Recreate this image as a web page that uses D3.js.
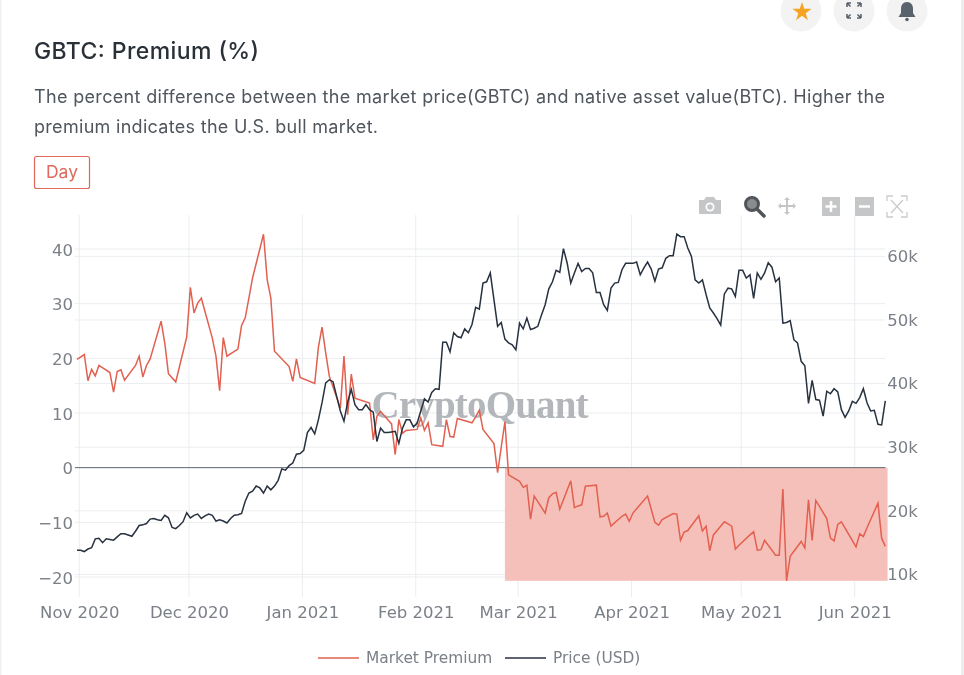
<!DOCTYPE html>
<html>
<head>
<meta charset="utf-8">
<title>GBTC: Premium (%)</title>
<script src="https://cdnjs.cloudflare.com/ajax/libs/d3/7.8.5/d3.min.js"></script>
<style>
  html, body { margin: 0; padding: 0; background: #fff; overflow: hidden; }
  svg { display: block; filter: blur(0.3px); }
  .ui { font-family: Inter, "Noto Sans", sans-serif; }
  .tick text, .legend text { font-family: "DejaVu Sans", sans-serif; }
</style>
</head>
<body>
<div id="chart"></div>
<script>
// Premium (%) for trading days only, one row per week
const premiumFirst = 19.8; // Oct 31
const premiumWeeks = [
  [20.7, 15.9, 18.0, 16.8, 18.7],
  [17.4, 13.8, 17.6, 17.9, 16.0],
  [18.7, 20.4, 16.6, 18.7, 19.9],
  [26.8, 22.8, 17.2, 15.7],
  [23.9, 33.0, 28.3, 30.1, 31.0],
  [23.7, 20.4, 14.1, 23.8, 20.4],
  [21.7, 26.0, 27.4, 31.0, 34.7],
  [42.7, 34.4, 31.0, 21.3],
  [18.5, 15.8, 19.9, 16.5],
  [15.4, 22.0, 25.7, 21.0, 16.7],
  [10.9, 20.4, 9.7, 17.1, 12.7],
  [11.8, 5.1, 9.4, 10.3],
  [8.0, 2.4, 8.8, 6.3, 6.8],
  [7.0, 9.1, 6.8, 8.2, 4.2],
  [3.9, 8.8, 5.7, 5.6, 9.0],
  [8.2, 9.3, 10.5, 7.0],
  [4.4, -0.9, 3.75, 8.4, -1.3],
  [-2.5, -3.6, -3.2, -9.4, -5.2],
  [-8.3, -5.5, -4.8, -4.5, -7.6],
  [-2.4, -7.3, -7.0, -6.8, -3.4],
  [-3.2, -9.0, -8.9, -8.3, -10.7],
  [-8.9, -8.5, -9.8, -8.3],
  [-5.2, -7.6, -10.0, -10.5, -9.5],
  [-8.4, -8.5, -13.3, -11.8, -11.5],
  [-8.8, -11.6, -10.7, -15.2, -12.3],
  [-9.9, -10.3, -10.7, -14.9, -14.2],
  [-12.3, -11.7, -15.1, -15.0, -13.3],
  [-16.0, -16.0, -3.9, -20.7, -16.2],
  [-13.5, -14.7, -5.9, -13.3, -6.0],
  [-9.3, -12.9, -13.4, -10.4, -9.9],
  [-14.5, -12.1, -12.6, -11.0],
  [-6.5, -12.9, -14.4]
];
const marketHolidays = ["2020-11-26", "2020-12-25", "2021-01-01", "2021-01-18", "2021-02-15", "2021-04-02", "2021-05-31"];

// BTC price in thousands of USD, one value per day from Oct 31 2020
const priceValues = [
  13.8, 13.8, 13.6, 14.0, 14.2, 15.6, 15.7, 15.0, 15.6, 15.5, 15.4, 15.9, 16.4, 16.4, 16.2, 16.0, 16.8, 17.7, 17.8, 18.0,
  18.7, 18.8, 18.6, 18.5, 19.3, 18.9, 17.4, 17.2, 17.7, 18.3, 19.7, 18.9, 19.3, 19.5, 18.8, 19.2, 19.5, 19.3, 18.4, 18.6,
  18.4, 18.1, 18.8, 19.3, 19.4, 19.6, 21.5, 22.8, 23.1, 23.9, 23.6, 22.8, 23.9, 23.3, 23.9, 24.8, 26.6, 26.4, 27.1, 27.5,
  28.9, 29.0, 29.5, 32.3, 33.1, 32.1, 34.3, 37.0, 40.1, 40.6, 40.3, 38.0, 35.7, 34.1, 37.1, 39.1, 36.7, 35.9, 35.9, 36.7,
  35.9, 35.5, 30.9, 33.0, 32.3, 32.3, 32.4, 32.5, 30.6, 33.0, 34.3, 34.3, 33.2, 33.8, 35.7, 37.6, 37.1, 38.6, 39.2, 39.1,
  46.5, 46.5, 45.0, 48.0, 47.4, 47.2, 48.6, 48.0, 49.3, 52.0, 51.7, 55.8, 56.0, 57.4, 53.2, 49.0, 49.6, 47.0, 46.4, 46.1,
  45.3, 49.5, 48.6, 50.3, 48.5, 48.7, 49.0, 50.8, 52.4, 54.9, 56.0, 57.8, 57.5, 61.2, 59.0, 55.8, 57.4, 58.9, 57.6, 58.1,
  58.1, 57.4, 54.3, 54.3, 52.4, 51.5, 55.0, 55.8, 55.9, 57.9, 58.9, 58.9, 58.9, 59.1, 57.1, 58.2, 59.1, 58.0, 56.1, 58.0,
  58.2, 59.7, 60.1, 60.1, 63.5, 63.1, 63.1, 61.3, 60.0, 56.3, 55.8, 56.3, 54.0, 51.9, 51.1, 50.2, 49.2, 54.1, 55.0, 54.9,
  53.7, 57.8, 57.8, 56.6, 57.1, 53.4, 57.4, 56.4, 57.4, 59.0, 58.3, 56.0, 56.6, 49.5, 49.6, 49.9, 46.9, 46.4, 43.5, 42.8,
  36.9, 40.5, 37.5, 37.4, 34.9, 38.8, 38.4, 39.2, 38.7, 35.9, 34.7, 35.7, 37.2, 36.9, 37.8, 39.2, 37.0, 35.7, 35.8, 33.6,
  33.5, 37.3
];

const leftTicks = [-20, -10, 0, 10, 20, 30, 40];
const rightTicks = [10, 20, 30, 40, 50, 60];
const monthTicks = ["2020-11-01", "2020-12-01", "2021-01-01", "2021-02-01", "2021-03-01", "2021-04-01", "2021-05-01", "2021-06-01"];
const legendItems = ["Market Premium", "Price (USD)"];

const parseDay = d3.timeParse("%Y-%m-%d");
const fmtDay = d3.timeFormat("%Y-%m-%d");

const width = 964, height = 675;
const margin = { top: 215, right: 78.7, bottom: 78, left: 75 };
const red = "#e2604f", dark = "#27313f", tickColor = "#7b8088", gridColor = "#ebedf0";

// points sit a few hours past the month gridlines in the original
const stamp = d => d3.timeHour.offset(d, 9);

const priceDates = priceValues.map((v, i) => d3.timeDay.offset(parseDay("2020-10-31"), i));
const tradingDays = d3.timeDay.range(parseDay("2020-11-02"), parseDay("2021-06-10"))
  .filter(d => d.getDay() > 0 && d.getDay() < 6 && !marketHolidays.includes(fmtDay(d)));
const premiumValues = [premiumFirst].concat(premiumWeeks.flat());
const premiumDates = [parseDay("2020-10-31")].concat(tradingDays);
const premiumData = premiumValues.map((v, i) => ({ date: stamp(premiumDates[i]), value: v }));
const priceData = priceValues.map((v, i) => ({ date: stamp(priceDates[i]), value: v }));

const x = d3.scaleTime()
  .domain([d3.timeHour.offset(parseDay("2020-10-30"), 20), d3.timeHour.offset(parseDay("2021-06-09"), 9)])
  .range([margin.left, width - margin.right]);
const yLeft = d3.scaleLinear().domain([-23.66, 46.22]).range([height - margin.bottom, margin.top]);
const yRight = d3.scaleLinear().domain([6.46, 66.5]).range([height - margin.bottom, margin.top]);

const svg = d3.select("#chart").append("svg").attr("width", width).attr("height", height);

// card edges
svg.append("rect").attr("x", 0).attr("y", 0).attr("width", 1.5).attr("height", height).attr("fill", "#f1f1f1");
svg.append("rect").attr("x", 961).attr("y", 0).attr("width", 3).attr("height", height).attr("fill", "#eeeeee");

// top right buttons
[801, 854, 907].forEach(cx => {
  svg.append("circle").attr("cx", cx).attr("cy", 11).attr("r", 20.5).attr("fill", "#f3f3f3");
});
const star = d3.symbol().type(d3.symbolStar).size(115);
svg.append("path").attr("d", star()).attr("transform", "translate(802,12)").attr("fill", "#f6a323");
svg.append("path")
  .attr("d", "M847 3h4M847 3v4M847 3l3.5 3.5M861 3h-4M861 3v4M861 3l-3.5 3.5M847 18h4M847 18v-4M847 18l3.5-3.5M861 18h-4M861 18v-4M861 18l-3.5-3.5")
  .attr("fill", "none").attr("stroke", "#59636e").attr("stroke-width", 1.6);
svg.append("path")
  .attr("d", "M907 2c-4 0-6 3-6 7v4l-2.5 4h17l-2.5-4V9c0-4-2-7-6-7z")
  .attr("fill", "#59636e");
svg.append("circle").attr("cx", 907).attr("cy", 19.5).attr("r", 1.8).attr("fill", "#59636e");

// header
svg.append("text").attr("class", "ui").attr("x", 34).attr("y", 59)
  .attr("font-size", 23).attr("font-weight", 500).attr("fill", "#2a3038").attr("textLength", 225)
  .text("GBTC: Premium (%)");
svg.append("text").attr("class", "ui").attr("x", 34).attr("y", 103)
  .attr("font-size", 18).attr("fill", "#50565d").attr("textLength", 851)
  .text("The percent difference between the market price(GBTC) and native asset value(BTC). Higher the");
svg.append("text").attr("class", "ui").attr("x", 34).attr("y", 133)
  .attr("font-size", 18).attr("fill", "#50565d").attr("textLength", 344)
  .text("premium indicates the U.S. bull market.");
svg.append("rect").attr("x", 34.5).attr("y", 156.5).attr("width", 55).attr("height", 32).attr("rx", 2)
  .attr("fill", "#fff").attr("stroke", "#e0695c").attr("stroke-width", 1.2);
svg.append("text").attr("class", "ui").attr("x", 62).attr("y", 178).attr("text-anchor", "middle")
  .attr("font-size", 17.5).attr("fill", "#df6a5d").text("Day");

// plotly style mode bar
const bar = svg.append("g").attr("fill", "#c4c6c8");
bar.append("path").attr("d", "M699 200h5l2-3h8l2 3h5v14h-22z");
bar.append("circle").attr("cx", 710).attr("cy", 207).attr("r", 4.5).attr("fill", "#fff");
bar.append("circle").attr("cx", 710).attr("cy", 207).attr("r", 2.8);
svg.append("circle").attr("cx", 752).attr("cy", 204).attr("r", 6.5).attr("fill", "#8a8d90").attr("stroke", "#50555a").attr("stroke-width", 3);
svg.append("path").attr("d", "M757 209l7 7").attr("stroke", "#50555a").attr("stroke-width", 3.5).attr("stroke-linecap", "round");
bar.append("path").attr("d", "M787 197l3 3h-2v5h5v-2l3 3-3 3v-2h-5v5h2l-3 3-3-3h2v-5h-5v2l-3-3 3-3v2h5v-5h-2z");
bar.append("rect").attr("x", 822).attr("y", 197).attr("width", 18).attr("height", 19);
svg.append("path").attr("d", "M831 201v11M825.500 206.500h11").attr("stroke", "#fff").attr("stroke-width", 2.5);
bar.append("rect").attr("x", 855).attr("y", 197).attr("width", 19).attr("height", 19);
svg.append("path").attr("d", "M859 206.500h11").attr("stroke", "#fff").attr("stroke-width", 2.5);
svg.append("path")
  .attr("d", "M887 201v-5h6M907 201v-5h-6M887 212v5h6M907 212v5h-6M891 200l12 13M903 200l-12 13")
  .attr("fill", "none").attr("stroke", "#c9cbcd").attr("stroke-width", 1.3);

// grid
const grid = svg.append("g").attr("stroke", gridColor).attr("stroke-width", 1).attr("fill", "none");
leftTicks.filter(t => t !== 0).forEach(t => {
  grid.append("line").attr("x1", margin.left).attr("x2", width - margin.right).attr("y1", yLeft(t)).attr("y2", yLeft(t));
});
rightTicks.forEach(t => {
  grid.append("line").attr("x1", margin.left).attr("x2", width - margin.right).attr("y1", yRight(t)).attr("y2", yRight(t));
});
monthTicks.forEach(t => {
  const d = parseDay(t);
  grid.append("line").attr("x1", x(d)).attr("x2", x(d)).attr("y1", margin.top).attr("y2", height - margin.bottom);
});

// negative premium zone
const shadeStart = stamp(parseDay("2021-02-25"));
const shadeEnd = parseDay("2021-06-10");
svg.append("rect")
  .attr("x", x(shadeStart))
  .attr("y", yLeft(0))
  .attr("width", x(shadeEnd) - x(shadeStart))
  .attr("height", yLeft(d3.min(premiumValues)) - yLeft(0))
  .attr("fill", "#f6c0ba");

// zero line
svg.append("line").attr("x1", margin.left).attr("x2", width - margin.right)
  .attr("y1", yLeft(0)).attr("y2", yLeft(0)).attr("stroke", "#5c6470").attr("stroke-width", 1);

// axes
function styleAxis(g) {
  g.select(".domain").remove();
  g.selectAll("text").attr("fill", tickColor).attr("font-size", 16.5);
}
svg.append("g").attr("transform", `translate(${margin.left},1)`)
  .call(d3.axisLeft(yLeft).tickValues(leftTicks).tickSize(0).tickPadding(2))
  .call(styleAxis);
svg.append("g").attr("transform", `translate(${width - margin.right},0)`)
  .call(d3.axisRight(yRight).tickValues(rightTicks).tickSize(0).tickPadding(2).tickFormat(d => d + "k"))
  .call(styleAxis);
svg.append("g").attr("transform", `translate(0,${height - margin.bottom})`)
  .call(d3.axisBottom(x).tickValues(monthTicks.map(parseDay)).tickSize(0).tickPadding(9).tickFormat(d3.timeFormat("%b %Y")))
  .call(styleAxis);

// watermark
svg.append("text").attr("x", 480).attr("y", 418).attr("text-anchor", "middle")
  .attr("font-family", "'Liberation Serif', serif").attr("font-weight", 700).attr("font-size", 39)
  .attr("fill", "#a6aaaf").attr("opacity", 0.85).attr("textLength", 217)
  .text("CryptoQuant");

// lines
const premiumLine = d3.line().x(d => x(d.date)).y(d => yLeft(d.value));
const priceLine = d3.line().x(d => x(d.date)).y(d => yRight(d.value));
svg.append("path").datum(premiumData).attr("d", premiumLine)
  .attr("fill", "none").attr("stroke", red).attr("stroke-width", 1.5);
svg.append("path").datum(priceData).attr("d", priceLine)
  .attr("fill", "none").attr("stroke", dark).attr("stroke-width", 1.5);

// legend
const legend = svg.append("g").attr("class", "legend");
const legendX = [318, 505];
legendItems.forEach((name, i) => {
  legend.append("line").attr("x1", legendX[i]).attr("x2", legendX[i] + 41).attr("y1", 658).attr("y2", 658)
    .attr("stroke", i === 0 ? red : dark).attr("stroke-width", 1.5);
  legend.append("text").attr("x", legendX[i] + 48).attr("y", 663)
    .attr("font-size", 15.4).attr("fill", tickColor).text(name);
});
</script>
</body>
</html>
